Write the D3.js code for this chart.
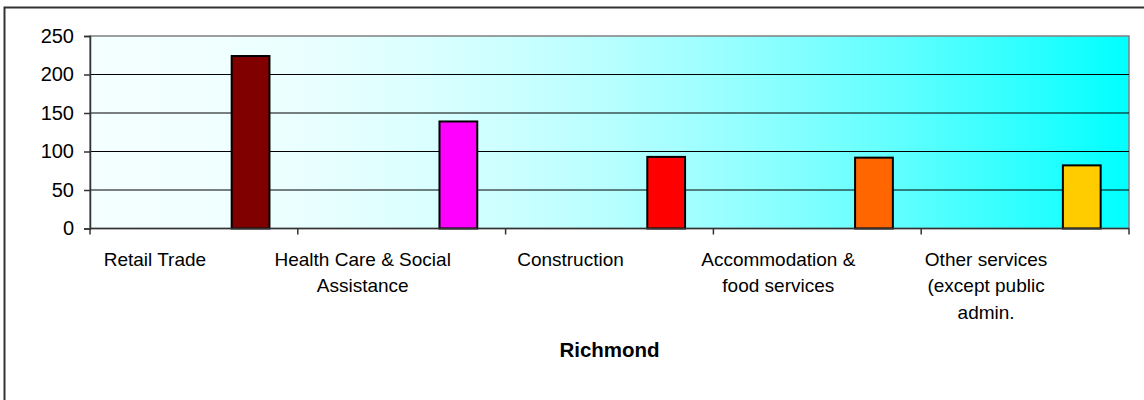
<!DOCTYPE html>
<html>
<head>
<meta charset="utf-8">
<script src="https://cdn.jsdelivr.net/npm/d3@7"></script>
<style>
  body { margin: 0; background: #ffffff; }
  text { font-family: "Liberation Sans", Arial, sans-serif; }
</style>
</head>
<body>
<div id="chart"></div>
<script>
// Richmond - top industries (bar chart)

// Data
const categories = [
  ["Retail Trade"],
  ["Health Care & Social", "Assistance"],
  ["Construction"],
  ["Accommodation &", "food services"],
  ["Other services", "(except public", "admin."]
];
const values = [224, 139, 93, 92, 82];
const barColors = ["#800000", "#ff00ff", "#ff0000", "#ff6600", "#ffcc00"];
const yTicks = [0, 50, 100, 150, 200, 250];
const chartTitle = "Richmond";

// Layout
const width = 1144;
const height = 400;
const plot = { left: 90, top: 36, right: 1129, bottom: 228.5 };

const svg = d3.select("#chart").append("svg")
  .attr("width", width)
  .attr("height", height);

// Outer chart frame (only top/left visible in the picture)
svg.append("rect")
  .attr("x", 4.5)
  .attr("y", 7.5)
  .attr("width", width + 20)
  .attr("height", height + 20)
  .attr("fill", "#ffffff")
  .attr("stroke", "#333333")
  .attr("stroke-width", 2);

// Gradient for plot area: pale cyan -> cyan, lighter through the middle
const defs = svg.append("defs");
const grad = defs.append("linearGradient")
  .attr("id", "plotGrad")
  .attr("x1", "0%").attr("y1", "0%")
  .attr("x2", "100%").attr("y2", "0%");
d3.range(0, 1.0001, 0.1).forEach(t => {
  const r = Math.round(244 * (1 - t * t));
  grad.append("stop")
    .attr("offset", (t * 100) + "%")
    .attr("stop-color", d3.rgb(r, 255, 255).formatHex());
});

// Scales
const x = d3.scaleBand()
  .domain(d3.range(categories.length))
  .range([plot.left, plot.right])
  .padding(0);

// 4 series slots per category, this series sits in the last one
const xInner = d3.scaleBand()
  .domain([0, 1, 2, 3])
  .range([0, x.bandwidth()])
  .paddingInner(0)
  .paddingOuter(0.75);
const seriesSlot = 3;

const y = d3.scaleLinear()
  .domain([0, 250])
  .range([plot.bottom, plot.top]);

// Plot area
svg.append("rect")
  .attr("x", plot.left)
  .attr("y", plot.top)
  .attr("width", plot.right - plot.left)
  .attr("height", plot.bottom - plot.top)
  .attr("fill", "url(#plotGrad)")
  .attr("stroke", "#808080")
  .attr("stroke-width", 1.5);

// Gridlines
svg.append("g")
  .selectAll("line")
  .data(yTicks.filter(d => d > 0 && d < 250))
  .join("line")
  .attr("x1", plot.left)
  .attr("x2", plot.right)
  .attr("y1", d => y(d))
  .attr("y2", d => y(d))
  .attr("stroke", "#000000")
  .attr("stroke-width", 1);

// Bars
svg.append("g")
  .selectAll("rect")
  .data(values)
  .join("rect")
  .attr("x", (d, i) => x(i) + xInner(seriesSlot))
  .attr("y", d => y(d))
  .attr("width", xInner.bandwidth())
  .attr("height", d => y(0) - y(d))
  .attr("fill", (d, i) => barColors[i])
  .attr("stroke", "#000000")
  .attr("stroke-width", 2);

// Y axis
const yAxis = svg.append("g")
  .attr("transform", `translate(${plot.left},0)`)
  .call(d3.axisLeft(y).tickValues(yTicks).tickSize(6).tickPadding(10).tickFormat(d3.format("d")));
yAxis.select(".domain").attr("stroke", "#333333").attr("stroke-width", 1.5);
yAxis.selectAll(".tick line").attr("stroke", "#333333").attr("stroke-width", 1.5);
yAxis.selectAll(".tick text")
  .attr("fill", "#000000")
  .style("font-size", "20px")
  .style("font-family", "'Liberation Sans', Arial, sans-serif");

// X axis (ticks between categories)
const xAxis = svg.append("g")
  .attr("transform", `translate(0,${plot.bottom})`);
xAxis.append("line")
  .attr("x1", plot.left)
  .attr("x2", plot.right)
  .attr("y1", 0)
  .attr("y2", 0)
  .attr("stroke", "#333333")
  .attr("stroke-width", 1.5);
xAxis.selectAll("line.tick")
  .data(d3.range(categories.length + 1))
  .join("line")
  .attr("class", "tick")
  .attr("x1", d => plot.left + d * x.step())
  .attr("x2", d => plot.left + d * x.step())
  .attr("y1", 0)
  .attr("y2", 6)
  .attr("stroke", "#333333")
  .attr("stroke-width", 1.5);

// Category labels
const labelShift = -39;
const lineGap = 26.6;
const labels = svg.append("g");
categories.forEach((lines, i) => {
  const t = labels.append("text")
    .attr("x", x(i) + x.bandwidth() / 2 + labelShift)
    .attr("y", 265.7)
    .attr("text-anchor", "middle")
    .attr("font-size", "19px")
    .attr("fill", "#000000");
  lines.forEach((ln, j) => {
    t.append("tspan")
      .attr("x", x(i) + x.bandwidth() / 2 + labelShift)
      .attr("dy", j === 0 ? 0 : lineGap)
      .text(ln);
  });
});

// Axis title
svg.append("text")
  .attr("x", (plot.left + plot.right) / 2)
  .attr("y", 357)
  .attr("text-anchor", "middle")
  .attr("font-size", "20.5px")
  .attr("font-weight", "bold")
  .attr("fill", "#000000")
  .text(chartTitle);
</script>
</body>
</html>
